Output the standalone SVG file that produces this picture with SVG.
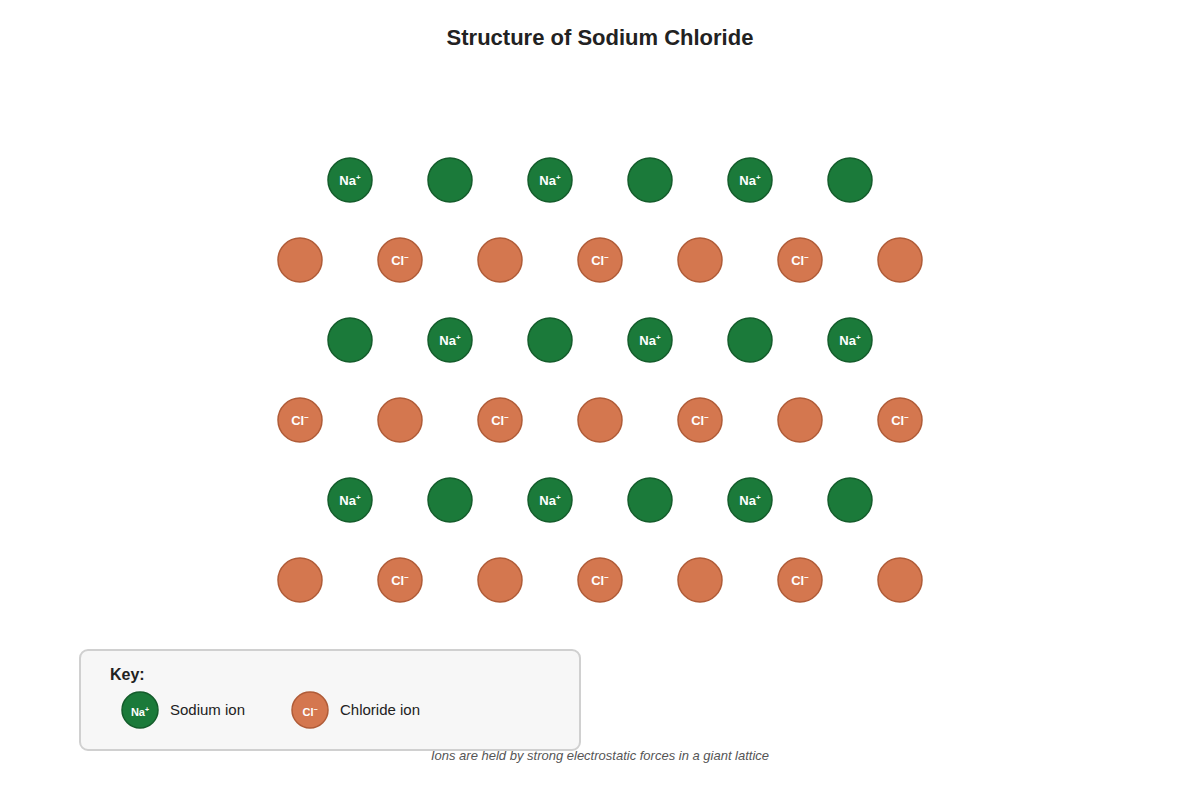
<svg xmlns="http://www.w3.org/2000/svg" width="1200" height="800" viewBox="0 0 1200 800">
<style>
text{font-family:"Liberation Sans",Arial,sans-serif}
.na{fill:#1b7a3a;stroke:#145c2b;stroke-width:1.5}
.cl{fill:#d4774f;stroke:#b05c38;stroke-width:1.5}
.lbl{fill:#fff;font-size:13px;font-weight:bold;text-anchor:middle}
.sup{font-size:8px}
.title{font-size:22px;font-weight:bold;fill:#222;text-anchor:middle}
.key{font-size:15px;fill:#222}
.note{font-size:13px;font-style:italic;fill:#555;text-anchor:middle}
</style>
<rect width="1200" height="800" fill="#fff"/>
<text class="title" x="600" y="45">Structure of Sodium Chloride</text>
<g id="lattice">
<g id="row1">
<circle class="na" cx="350" cy="180" r="22"/><text class="lbl" x="350" y="185">Na<tspan class="sup" dy="-5">+</tspan></text>
<circle class="na" cx="450" cy="180" r="22"/>
<circle class="na" cx="550" cy="180" r="22"/><text class="lbl" x="550" y="185">Na<tspan class="sup" dy="-5">+</tspan></text>
<circle class="na" cx="650" cy="180" r="22"/>
<circle class="na" cx="750" cy="180" r="22"/><text class="lbl" x="750" y="185">Na<tspan class="sup" dy="-5">+</tspan></text>
<circle class="na" cx="850" cy="180" r="22"/>
</g>
<g id="row2">
<circle class="cl" cx="300" cy="260" r="22"/>
<circle class="cl" cx="400" cy="260" r="22"/><text class="lbl" x="400" y="265">Cl<tspan class="sup" dy="-5">−</tspan></text>
<circle class="cl" cx="500" cy="260" r="22"/>
<circle class="cl" cx="600" cy="260" r="22"/><text class="lbl" x="600" y="265">Cl<tspan class="sup" dy="-5">−</tspan></text>
<circle class="cl" cx="700" cy="260" r="22"/>
<circle class="cl" cx="800" cy="260" r="22"/><text class="lbl" x="800" y="265">Cl<tspan class="sup" dy="-5">−</tspan></text>
<circle class="cl" cx="900" cy="260" r="22"/>
</g>
<g id="row3">
<circle class="na" cx="350" cy="340" r="22"/>
<circle class="na" cx="450" cy="340" r="22"/><text class="lbl" x="450" y="345">Na<tspan class="sup" dy="-5">+</tspan></text>
<circle class="na" cx="550" cy="340" r="22"/>
<circle class="na" cx="650" cy="340" r="22"/><text class="lbl" x="650" y="345">Na<tspan class="sup" dy="-5">+</tspan></text>
<circle class="na" cx="750" cy="340" r="22"/>
<circle class="na" cx="850" cy="340" r="22"/><text class="lbl" x="850" y="345">Na<tspan class="sup" dy="-5">+</tspan></text>
</g>
<g id="row4">
<circle class="cl" cx="300" cy="420" r="22"/><text class="lbl" x="300" y="425">Cl<tspan class="sup" dy="-5">−</tspan></text>
<circle class="cl" cx="400" cy="420" r="22"/>
<circle class="cl" cx="500" cy="420" r="22"/><text class="lbl" x="500" y="425">Cl<tspan class="sup" dy="-5">−</tspan></text>
<circle class="cl" cx="600" cy="420" r="22"/>
<circle class="cl" cx="700" cy="420" r="22"/><text class="lbl" x="700" y="425">Cl<tspan class="sup" dy="-5">−</tspan></text>
<circle class="cl" cx="800" cy="420" r="22"/>
<circle class="cl" cx="900" cy="420" r="22"/><text class="lbl" x="900" y="425">Cl<tspan class="sup" dy="-5">−</tspan></text>
</g>
<g id="row5">
<circle class="na" cx="350" cy="500" r="22"/><text class="lbl" x="350" y="505">Na<tspan class="sup" dy="-5">+</tspan></text>
<circle class="na" cx="450" cy="500" r="22"/>
<circle class="na" cx="550" cy="500" r="22"/><text class="lbl" x="550" y="505">Na<tspan class="sup" dy="-5">+</tspan></text>
<circle class="na" cx="650" cy="500" r="22"/>
<circle class="na" cx="750" cy="500" r="22"/><text class="lbl" x="750" y="505">Na<tspan class="sup" dy="-5">+</tspan></text>
<circle class="na" cx="850" cy="500" r="22"/>
</g>
<g id="row6">
<circle class="cl" cx="300" cy="580" r="22"/>
<circle class="cl" cx="400" cy="580" r="22"/><text class="lbl" x="400" y="585">Cl<tspan class="sup" dy="-5">−</tspan></text>
<circle class="cl" cx="500" cy="580" r="22"/>
<circle class="cl" cx="600" cy="580" r="22"/><text class="lbl" x="600" y="585">Cl<tspan class="sup" dy="-5">−</tspan></text>
<circle class="cl" cx="700" cy="580" r="22"/>
<circle class="cl" cx="800" cy="580" r="22"/><text class="lbl" x="800" y="585">Cl<tspan class="sup" dy="-5">−</tspan></text>
<circle class="cl" cx="900" cy="580" r="22"/>
</g>
</g>
<g id="connectors"></g>
<g id="legend">
<rect x="80" y="650" width="500" height="100" rx="8" fill="#f7f7f7" stroke="#d0d0d0" stroke-width="2"/>
<text class="key" x="110" y="680" font-weight="bold" style="font-size:16px">Key:</text>
<circle class="na" cx="140" cy="710" r="18"/><text class="lbl" x="140" y="716" style="font-size:11px">Na<tspan style="font-size:7px" dy="-4">+</tspan></text>
<text class="key" x="170" y="715">Sodium ion</text>
<circle class="cl" cx="310" cy="710" r="18"/><text class="lbl" x="310" y="716" style="font-size:11px">Cl<tspan style="font-size:7px" dy="-4">−</tspan></text>
<text class="key" x="340" y="715">Chloride ion</text>
</g>
<text class="note" x="600" y="760">Ions are held by strong electrostatic forces in a giant lattice</text>
</svg>
